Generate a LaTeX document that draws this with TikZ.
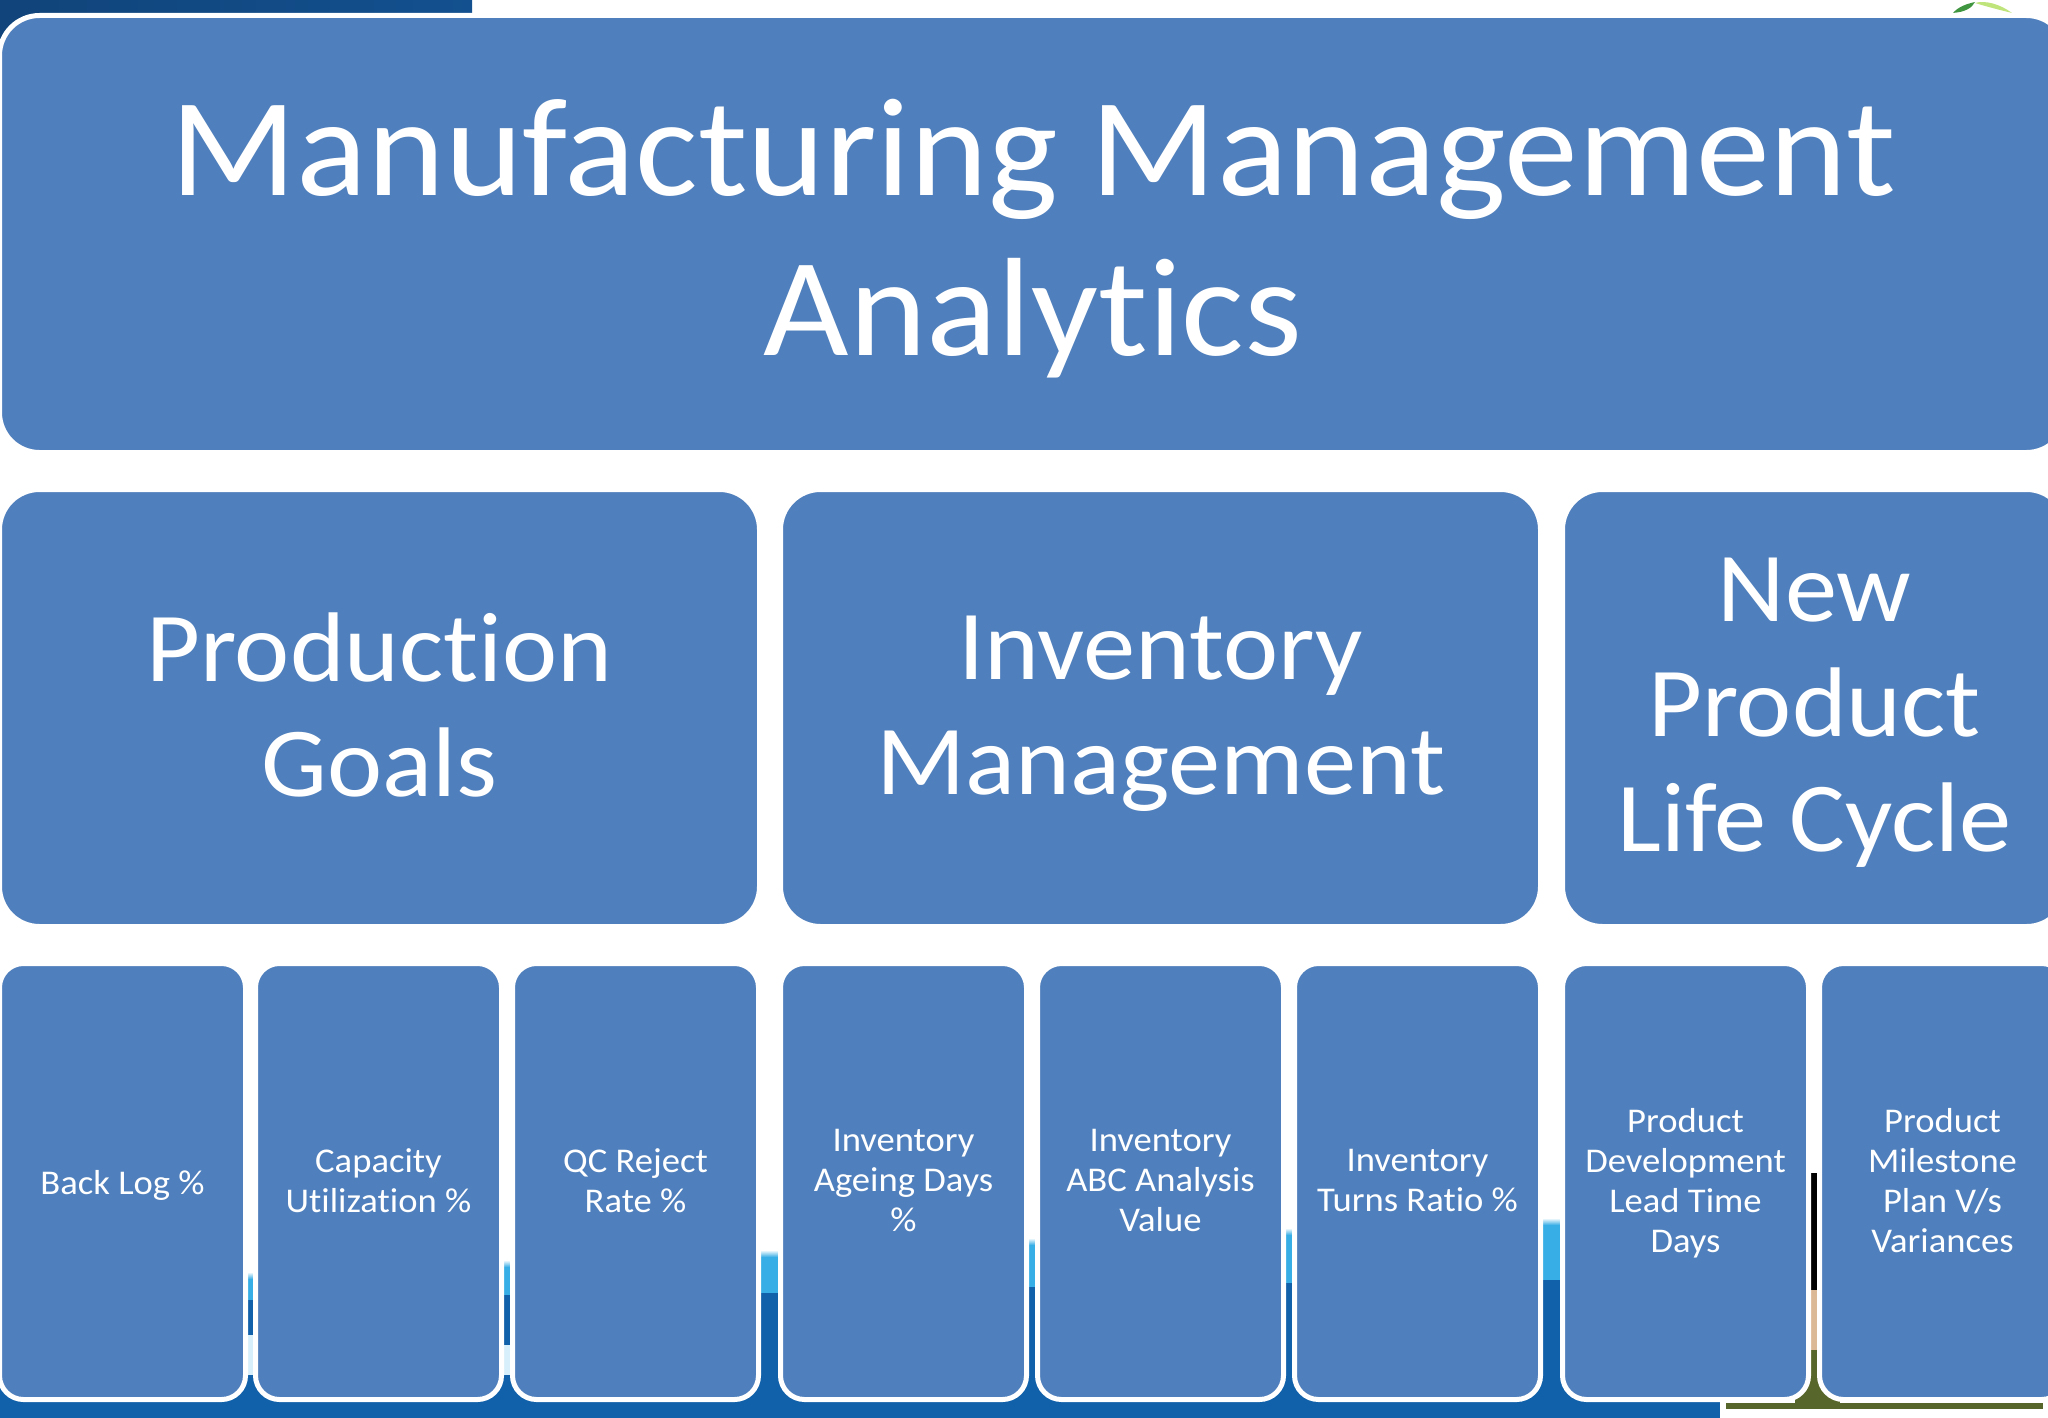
\documentclass[tikz,border=0pt]{standalone}
\usepackage{fontspec}
\setmainfont[Ligatures=NoCommon,FakeStretch=1.055]{Carlito}
\definecolor{boxblue}{HTML}{4F7FBC}
\definecolor{bandblue}{HTML}{1060AA}
\definecolor{skyblue}{HTML}{38AEE6}
\definecolor{topblue}{HTML}{13508F}
\definecolor{grass}{HTML}{57662A}
\tikzset{
  x=1pt,y=-1pt,
  panel/.style={rectangle,draw=white,line width=5pt,fill=boxblue,inner sep=0pt,anchor=north west,xshift=-5pt,yshift=5pt},
  titlebox/.style={panel,rounded corners=40pt,minimum width=2067pt,minimum height=437pt},
  groupbox/.style={panel,rounded corners=40pt,minimum width=760pt,minimum height=437pt},
  lastgroup/.style={groupbox,minimum width=504pt},
  leafbox/.style={panel,rounded corners=24pt,minimum width=246pt,minimum height=436pt},
  caption/.style={text=white,align=center,inner sep=0pt,anchor=center,
    execute at begin node=\strut,execute at end node=\strut},
  titletext/.style={caption,yshift=-17pt,font=\fontsize{140}{160}\selectfont},
  grouptext/.style={caption,yshift=-14pt,font=\fontsize{99}{115}\selectfont},
  leaftext/.style={caption,yshift=-5pt,font=\fontsize{34.7}{40.3}\selectfont},
}
\newcommand{\gapstrip}[4]{% x1 x2 top split
  \shade[top color=white,bottom color=skyblue] (#1,#3) rectangle (#2,#3+7);
  \fill[skyblue] (#1,#3+7) rectangle (#2,#4);
  \fill[bandblue] (#1,#4) rectangle (#2,1403);
}
\newcommand{\panelnode}[5]{% box style, text style, name, position, text
  \node[#1] (#3) at (#4) {};
  \node[#2] (#3text) at (#3.center) {#5};
}
\begin{document}
\begin{tikzpicture}
\useasboundingbox (0,0) rectangle (2048,1418);
\clip (0,0) rectangle (2048,1418);
\fill[white] (0,0) rectangle (2048,1418);
% slide background
\shade[left color=topblue!85!black,right color=topblue] (0,0) rectangle (472,13);
\fill[topblue!85!black] (0,0) rectangle (40,60);
\fill[green!45!black!75!white] (1953,13) .. controls (1958,7) and (1966,4) .. (1975,2) .. controls (1972,8) and (1965,12) .. (1953,13) -- cycle;
\fill[yellow!55!green!55!white] (1975,3) .. controls (1985,0) and (2000,4) .. (2012,13) .. controls (2000,10) and (1988,7) .. (1975,3) -- cycle;
\fill[bandblue] (0,1375) rectangle (1720,1418);
\fill[grass] (1726,1403) rectangle (2043,1409);
\fill[grass] (1795,1380) rectangle (1840,1405);
\gapstrip{246}{255}{1272}{1300}
\fill[white!80!skyblue] (246,1335) rectangle (255,1375);
\gapstrip{503}{512}{1260}{1295}
\fill[white!80!skyblue] (503,1345) rectangle (512,1375);
\gapstrip{760}{780}{1250}{1293}
\gapstrip{1028}{1037}{1238}{1287}
\gapstrip{1285}{1294}{1228}{1283}
\gapstrip{1542}{1562}{1218}{1280}
\fill[black] (1810,1173) rectangle (1819,1290);
\fill[brown!55!white] (1810,1290) rectangle (1819,1350);
\fill[grass] (1810,1350) rectangle (1819,1405);
% panels
\panelnode{titlebox}{titletext}{title}{2,18}{Manufacturing Management\\Analytics}
\panelnode{groupbox}{grouptext}{prod}{2,492}{Production\\Goals}
\panelnode{groupbox}{grouptext}{inv}{783,492}{Inventory\\Management}
\panelnode{lastgroup}{grouptext}{npl}{1565,492}{New\\Product\\Life Cycle}
\panelnode{leafbox}{leaftext}{aone}{2,966}{Back Log \%}
\panelnode{leafbox}{leaftext}{atwo}{258,966}{Capacity\\Utilization \%}
\panelnode{leafbox}{leaftext}{athree}{515,966}{QC Reject\\Rate \%}
\panelnode{leafbox}{leaftext}{bone}{783,966}{Inventory\\Ageing Days\\\%}
\panelnode{leafbox}{leaftext}{btwo}{1040,966}{Inventory\\ABC Analysis\\Value}
\panelnode{leafbox}{leaftext}{bthree}{1297,966}{Inventory\\Turns Ratio \%}
\panelnode{leafbox}{leaftext}{cone}{1565,966}{Product\\Development\\Lead Time\\Days}
\panelnode{leafbox}{leaftext}{ctwo}{1822,966}{Product\\Milestone\\Plan V/s\\Variances}
\end{tikzpicture}
\end{document}
